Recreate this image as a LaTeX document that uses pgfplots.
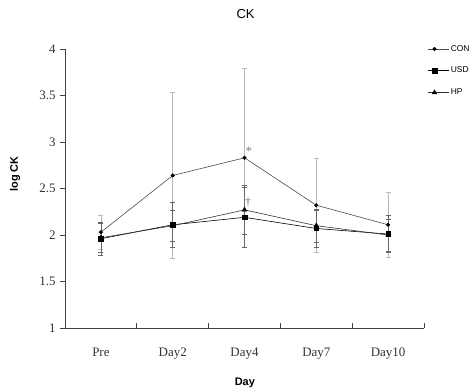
\documentclass[border=0pt]{standalone}
\usepackage{fontspec}
\setmainfont{Liberation Serif}
\newfontfamily\arial{Liberation Sans}
\usepackage{pgfplots}
\pgfplotsset{compat=1.18}
\begin{document}
\begin{tikzpicture}
\begin{axis}[
  at={(0,0)}, anchor=south west,
  scale only axis, width=359bp, height=279bp,
  xmin=0, xmax=5, ymin=1, ymax=4,
  axis lines=left,
  axis line style={-, black!75, line width=0.7bp},
  xtick={0.5,1.5,2.5,3.5,4.5},
  xticklabels={Pre,Day2,Day4,Day7,Day10},
  minor xtick={0,1,2,3,4,5},
  ytick={1,1.5,2,2.5,3,3.5,4},
  tick align=inside,
  major tick length=5bp, minor tick length=5bp,
  major x tick style={draw=none},
  minor x tick style={black!75, line width=0.7bp},
  ytick style={black!75, line width=0.7bp, xshift=-5bp},
  /pgf/number format/assume math mode=true,
  tick label style={font=\fontsize{13}{15}\selectfont, black!80},
  xticklabel style={yshift=-16bp},
  yticklabel style={xshift=-6bp},
  title={CK},
  title style={at={(axis description cs:0.503,1)}, anchor=center, yshift=29bp, font=\arial\fontsize{13}{15}\selectfont},
  xlabel={Day},
  xlabel style={at={(axis description cs:0.501,0)}, anchor=center, yshift=-55bp, font=\arial\bfseries\fontsize{11}{13}\selectfont},
  ylabel={log CK},
  ylabel style={at={(axis description cs:-0.139,0.552)}, anchor=center, font=\arial\bfseries\fontsize{11}{13}\selectfont},
  legend style={at={(axis description cs:1,1)}, anchor=north west, xshift=2bp, yshift=7bp, draw=none, fill=none,
    font=\arial\fontsize{8.5}{10}\selectfont, row sep=10.5bp, inner sep=1bp},
  legend cell align=left,
  legend image code/.code={\path (0bp,0bp) -- (21bp,0bp); \draw[#1, mark=none] (0bp,0bp) -- (14bp,0bp); \draw[#1, only marks] plot coordinates {(7bp,0bp)};},
]
\addplot[black!70, line width=0.6bp, mark=*, mark size=1.7bp, mark options={black, solid},
  error bars/.cd, y dir=both, y explicit,
  error bar style={gray!55, line width=0.6bp},
  error mark options={rotate=90, mark size=2.5bp, gray!55, line width=0.6bp}]
  coordinates {(0.5,2.03) +- (0,0.18) (1.5,2.64) +- (0,0.89) (2.5,2.83) +- (0,0.96) (3.5,2.32) +- (0,0.51) (4.5,2.11) +- (0,0.35)};
\addlegendentry{CON}
\addplot[black, line width=0.6bp, mark=square*, mark size=2.3bp, mark options={black, solid},
  error bars/.cd, y dir=both, y explicit,
  error bar style={black!60, line width=0.6bp},
  error mark options={rotate=90, mark size=2.5bp, black!60, line width=0.6bp}]
  coordinates {(0.5,1.96) +- (0,0.18) (1.5,2.11) +- (0,0.24) (2.5,2.19) +- (0,0.32) (3.5,2.07) +- (0,0.20) (4.5,2.01) +- (0,0.20)};
\addlegendentry{USD}
\addplot[black!80, line width=0.6bp, mark=triangle*, mark size=2.6bp, mark options={black, solid},
  error bars/.cd, y dir=both, y explicit,
  error bar style={black!60, line width=0.6bp},
  error mark options={rotate=90, mark size=2.5bp, black!60, line width=0.6bp}]
  coordinates {(0.5,1.97) +- (0,0.16) (1.5,2.10) +- (0,0.17) (2.5,2.27) +- (0,0.26) (3.5,2.10) +- (0,0.18) (4.5,2.00) +- (0,0.17)};
\addlegendentry{HP}
\node[gray, font=\fontsize{13}{15}\selectfont] at (axis cs:2.56,2.90) {*};
\node[gray!70!black, font=\fontsize{11}{13}\selectfont] at (axis cs:2.55,2.35) {†};
\end{axis}
\pgfresetboundingbox
\path[use as bounding box] (-65bp,-63bp) rectangle (408bp,328bp);
\end{tikzpicture}
\end{document}
